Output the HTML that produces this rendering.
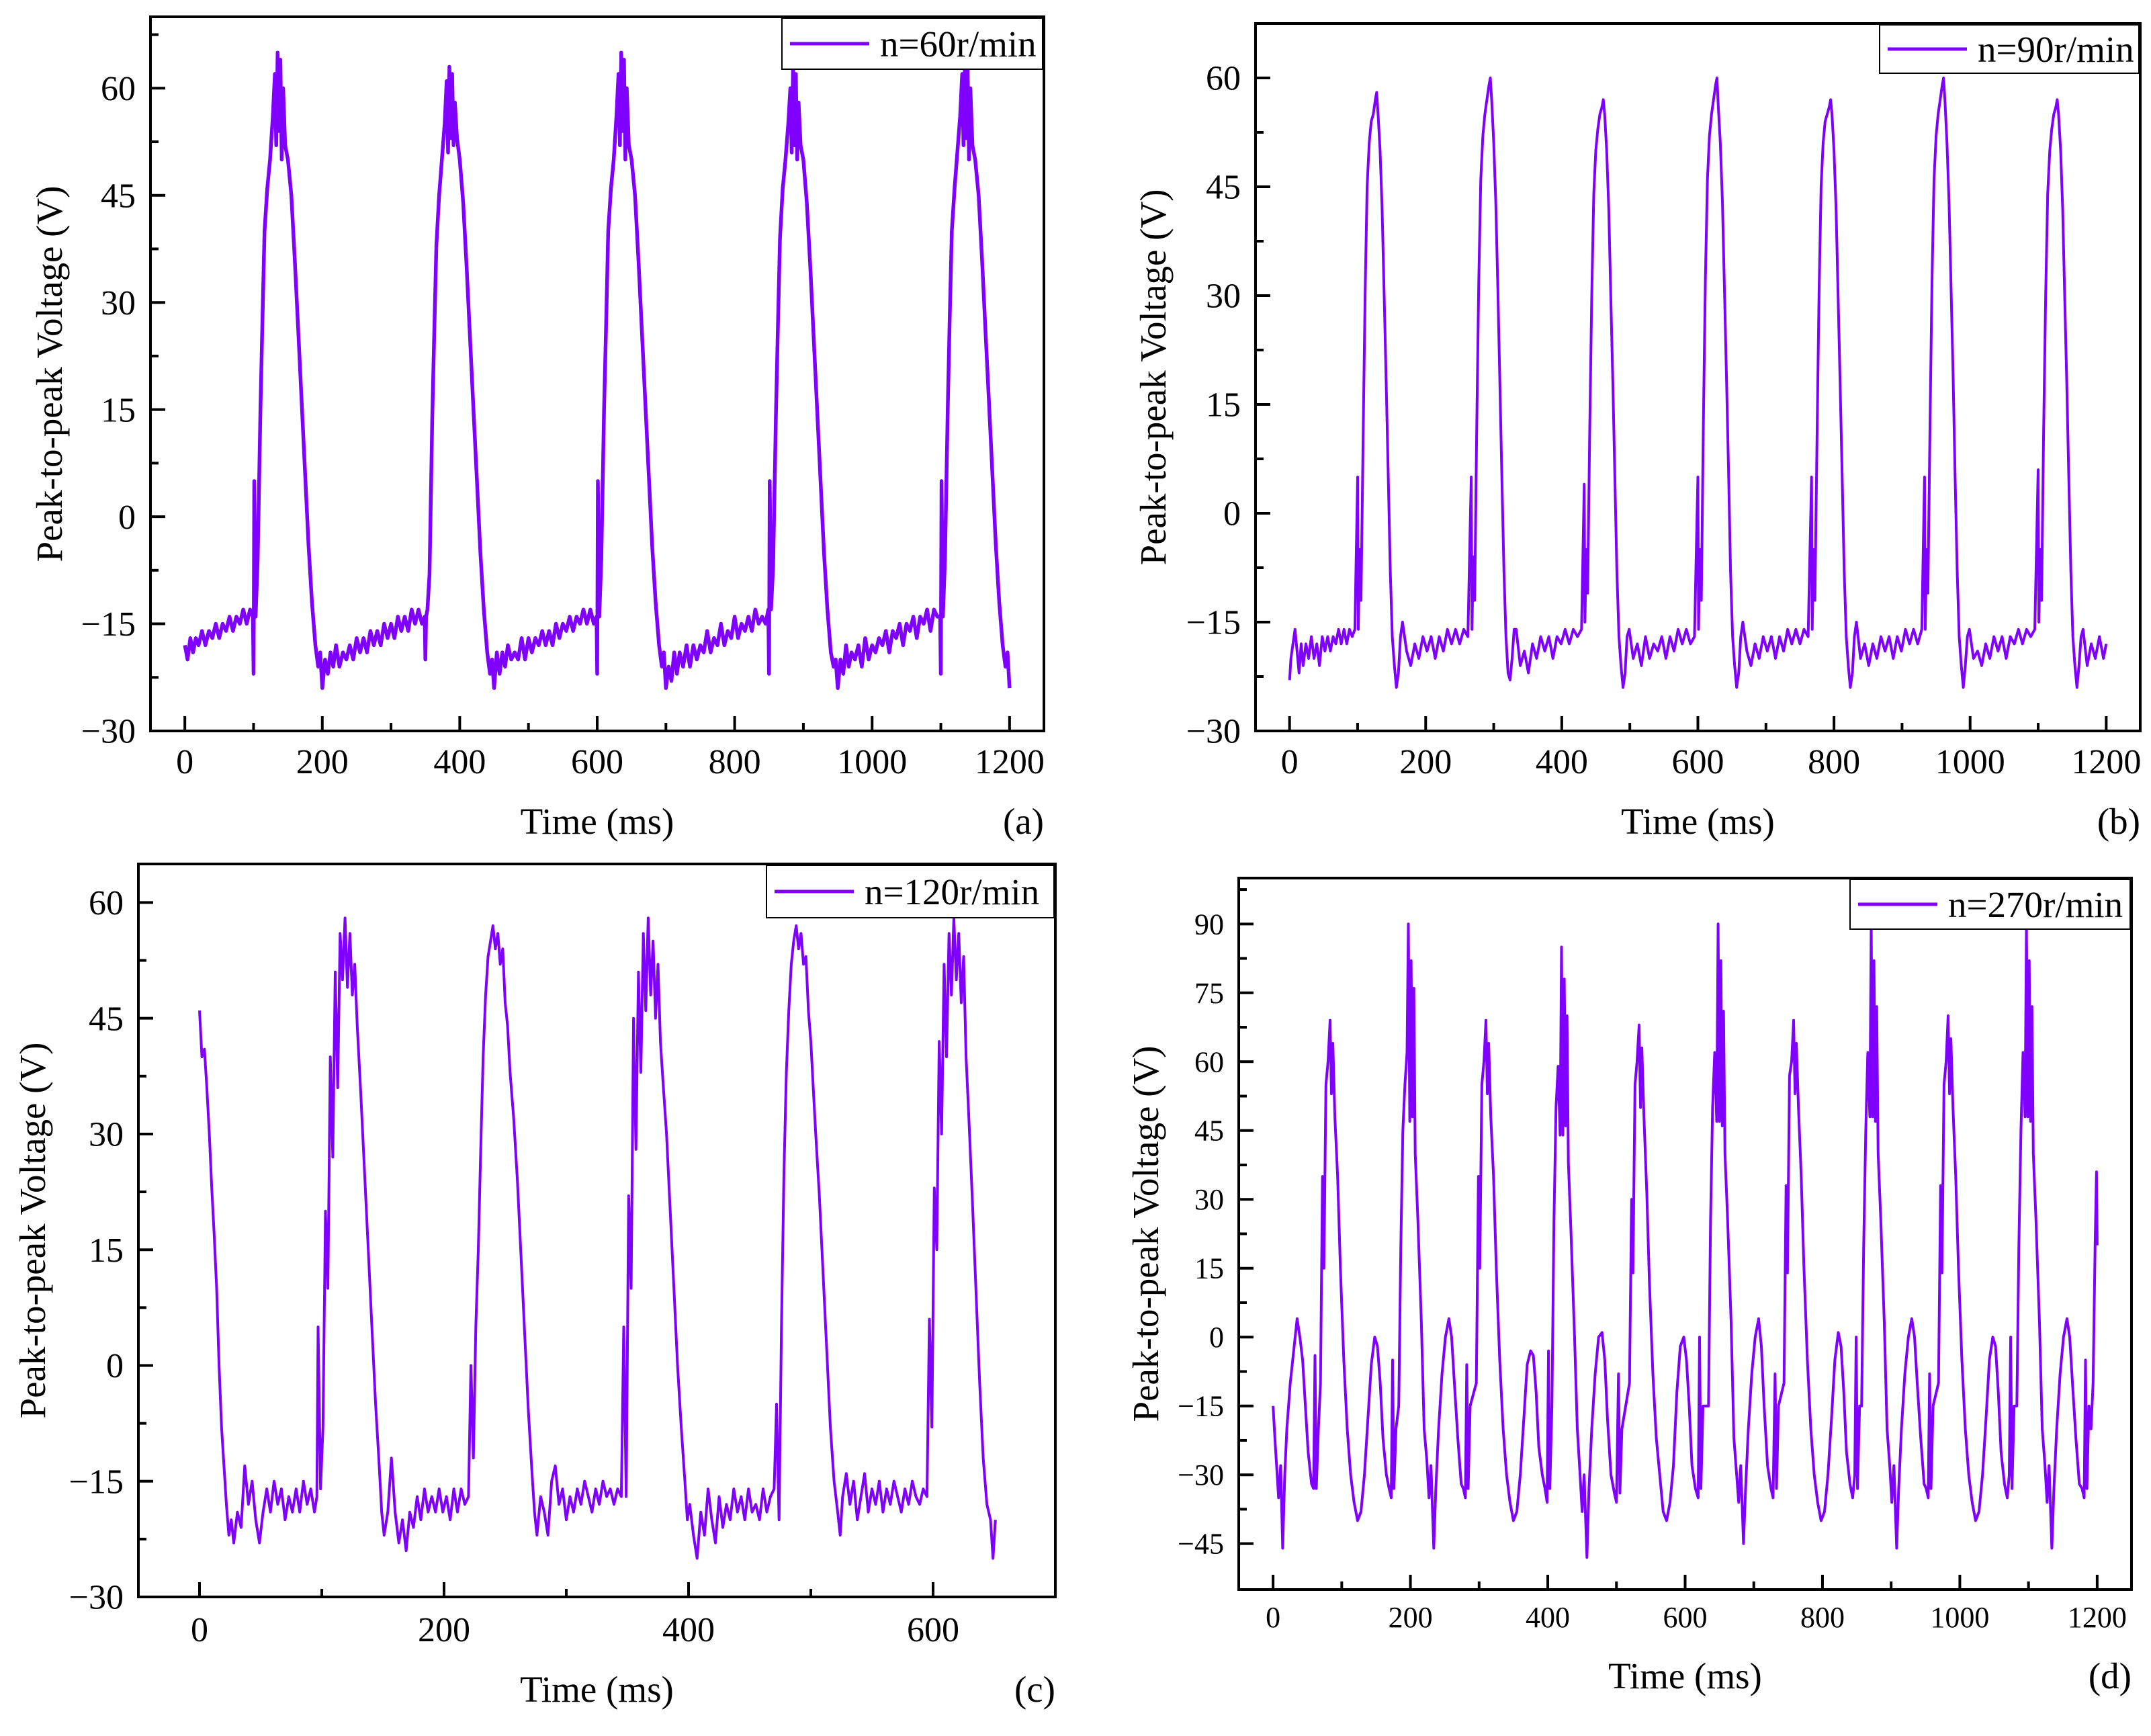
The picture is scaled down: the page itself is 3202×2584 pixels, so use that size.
<!DOCTYPE html>
<html>
<head>
<meta charset="utf-8">
<style>
html,body{margin:0;padding:0;background:#fff;}
svg{display:block;font-family:"Liberation Serif",serif;}
svg text{font-family:"Liberation Serif",serif;fill:#000;}
</style>
</head>
<body>
<svg id="fig" width="3202" height="2584" viewBox="0 0 3202 2584" xmlns="http://www.w3.org/2000/svg" font-family="Liberation Serif, serif">
<rect x="0" y="0" width="3202" height="2584" fill="#fff"/>
</svg>
<script>
// ---------- Panel (a) data: n=60r/min ----------
const tA = [0,4,8,12,16,20,25,30,35,40,45,50,55,60,65,70,75,80,85,90,95,99,
100,101,103,106,110,113,116,120,124,128,131,133,135,137,139,141,143,146,150,155,160,165,170,175,180,185,190,194,197,200,
204,208,212,216,220,225,230,235,240,245,250,255,260,265,270,275,280,285,290,295,300,305,310,315,320,325,330,335,340,345,349,
350,351,353,356,360,363,366,370,374,378,381,383,385,387,389,391,393,396,400,405,410,415,420,425,430,435,440,444,447,450,
454,458,462,466,470,475,480,485,490,495,500,505,510,515,520,525,530,535,540,545,550,555,560,565,570,575,580,585,590,595,599,
600,601,603,606,610,613,616,620,624,628,631,633,635,637,639,641,643,646,650,655,660,665,670,675,680,685,690,694,697,700,
704,708,712,716,720,725,730,735,740,745,750,755,760,765,770,775,780,785,790,795,800,805,810,815,820,825,830,835,840,845,849,
850,851,853,856,860,863,866,870,874,878,881,883,885,887,889,891,893,896,900,905,910,915,920,925,930,935,940,944,947,950,
954,958,962,966,970,975,980,985,990,995,1000,1005,1010,1015,1020,1025,1030,1035,1040,1045,1050,1055,1060,1065,1070,1075,1080,1085,1090,1095,1099,
1100,1101,1103,1106,1110,1113,1116,1120,1124,1128,1131,1133,1135,1137,1139,1141,1143,1146,1150,1155,1160,1165,1170,1175,1180,1185,1190,1194,1197,1200];
const vA = [-18,-20,-17,-19,-17,-18,-16,-18,-16,-17,-15,-17,-15,-16,-14,-16,-14,-15,-13,-15,-13,-14,
-22,5,-14,-6,15,28,40,46,50,56,62,52,65,54,64,50,60,52,50,45,36,26,16,6,-4,-12,-18,-21,-19,-24,
-20,-22,-19,-21,-18,-21,-19,-20,-18,-20,-17,-19,-17,-19,-16,-18,-16,-18,-15,-17,-15,-17,-14,-16,-14,-16,-13,-15,-13,-15,-14,
-20,-14,-13,-8,14,26,38,45,50,55,61,51,63,53,62,52,58,53,50,44,35,25,15,5,-5,-13,-19,-22,-20,-24,
-19,-22,-19,-21,-18,-20,-19,-20,-17,-20,-17,-19,-17,-18,-16,-18,-16,-18,-15,-17,-15,-16,-14,-16,-14,-15,-13,-15,-13,-15,-14,
-22,5,-14,-6,15,27,40,46,50,56,62,52,65,54,64,50,60,52,50,45,36,26,16,6,-4,-12,-18,-21,-19,-24,
-21,-23,-19,-22,-19,-21,-18,-21,-18,-20,-18,-19,-16,-19,-17,-18,-15,-18,-16,-17,-14,-17,-15,-16,-14,-16,-13,-15,-14,-15,-13,
-22,5,-13,-7,14,27,39,46,50,55,60,51,63,52,62,50,58,52,50,44,35,25,15,5,-5,-13,-19,-21,-20,-24,
-20,-22,-18,-21,-19,-20,-18,-21,-17,-20,-18,-19,-17,-18,-16,-19,-16,-17,-15,-18,-15,-16,-14,-17,-14,-15,-13,-16,-13,-14,-14,
-22,5,-14,-6,15,28,40,46,51,56,62,52,64,53,63,50,60,52,50,45,36,26,16,6,-4,-12,-18,-21,-19,-24];
const xTicksA = [0,200,400,600,800,1000,1200];
const yTicksA = [-30,-15,0,15,30,45,60];

// ---------- Panel (b) data: n=90r/min ----------
const tB = [0,2,5,8,11,14,17,20,24,28,32,36,40,44,48,52,56,60,64,68,72,76,80,84,88,92,96,
100,101,103,105,108,111,114,117,120,123,126,128,130,133,136,139,142,145,148,151,154,157,160,163,
166,172,178,184,190,196,202,208,214,220,226,232,238,244,250,256,262,
267,268,270,272,275,278,281,284,287,290,293,295,297,300,303,306,309,312,315,318,321,324,327,330,
333,339,345,351,357,363,369,375,381,387,393,399,405,411,417,423,429,
433,434,436,438,441,444,447,450,453,456,459,461,463,466,469,472,475,478,481,484,487,490,493,496,
499,505,511,517,523,529,535,541,547,553,559,565,571,577,583,589,595,
600,601,603,605,608,611,614,617,620,623,626,628,630,633,636,639,642,645,648,651,654,657,660,663,
666,672,678,684,690,696,702,708,714,720,726,732,738,744,750,756,762,
767,768,770,772,775,778,781,784,787,790,793,795,797,800,803,806,809,812,815,818,821,824,827,830,
833,839,845,851,857,863,869,875,881,887,893,899,905,911,917,923,929,
933,934,936,938,941,944,947,950,953,956,959,961,963,966,969,972,975,978,981,984,987,990,993,996,
999,1005,1011,1017,1023,1029,1035,1041,1047,1053,1059,1065,1071,1077,1083,1089,1095,
1100,1101,1103,1105,1108,1111,1114,1117,1120,1123,1126,1128,1130,1133,1136,1139,1142,1145,1148,1151,1154,1157,1160,1163,
1166,1172,1178,1184,1190,1196,1200];
const vB = [-23,-20,-18,-16,-19,-22,-18,-21,-18,-20,-17,-20,-18,-21,-17,-19,-17,-19,-17,-18,-16,-18,-16,-18,-16,-17,-16,
5,-16,-5,-12,10,30,45,51,54,55,57,58,55,50,42,30,18,5,-8,-17,-21,-24,-22,-17,
-15,-19,-21,-18,-20,-17,-19,-17,-20,-17,-19,-16,-18,-16,-18,-16,-17,
5,-16,-6,-12,12,32,46,52,55,57,59,60,57,51,43,31,18,5,-8,-17,-22,-23,-20,-16,
-16,-21,-19,-22,-18,-20,-17,-19,-17,-20,-17,-18,-16,-18,-16,-17,-16,
4,-15,-5,-11,11,30,44,50,53,55,56,57,55,50,42,30,18,5,-8,-17,-21,-24,-22,-17,
-16,-20,-18,-21,-17,-20,-18,-19,-17,-20,-17,-19,-16,-18,-16,-18,-17,
5,-16,-5,-12,12,32,46,52,55,57,59,60,56,51,43,31,19,6,-8,-17,-21,-24,-22,-17,
-15,-19,-21,-18,-20,-17,-19,-17,-20,-17,-19,-16,-18,-16,-18,-16,-17,
5,-16,-5,-12,10,30,45,51,54,55,56,57,55,50,42,30,18,5,-8,-17,-21,-24,-22,-17,
-15,-20,-18,-21,-18,-20,-17,-19,-17,-20,-17,-19,-16,-18,-16,-18,-16,
5,-16,-5,-11,12,32,46,52,55,57,59,60,57,51,43,31,19,5,-8,-17,-21,-24,-21,-17,
-16,-20,-19,-21,-18,-20,-17,-19,-17,-20,-17,-18,-16,-18,-16,-17,-16,
6,-15,-5,-12,11,30,44,50,53,55,56,57,55,50,42,30,18,5,-8,-17,-21,-24,-21,-17,
-16,-21,-18,-20,-17,-20,-18];
const xTicksB = [0,200,400,600,800,1000,1200];
const yTicksB = [-30,-15,0,15,30,45,60];

// ---------- Panel (c) data: n=120r/min ----------
const tC = [0,2,4,6,8,10,12,14,16,18,20,22,24,26,28,31,34,37,40,43,46,49,52,55,58,61,64,67,70,73,76,79,82,85,88,91,94,96,
97,99,101,103,105,107,109,111,113,115,117,119,121,123,125,127,129,132,135,138,141,144,147,149,151,154,157,160,163,166,169,172,175,178,181,184,187,190,193,196,199,202,205,208,211,214,217,220,
222,224,226,228,230,232,234,236,238,240,242,244,246,248,250,252,254,257,260,263,266,269,272,274,276,279,282,285,288,291,294,297,300,303,306,309,312,315,318,321,324,327,330,333,336,339,342,345,
347,349,351,353,355,357,359,361,363,365,367,369,371,373,375,377,379,382,385,388,391,394,397,399,401,404,407,410,413,416,419,422,425,428,431,434,437,440,443,446,449,452,455,458,461,464,467,470,
472,474,476,478,480,482,484,486,488,490,492,494,496,498,500,502,504,507,510,513,516,519,522,524,526,529,532,535,538,541,544,547,550,553,556,559,562,565,568,571,574,577,580,583,586,589,592,595,
597,599,601,603,605,607,609,611,613,615,617,619,621,623,625,627,629,632,635,638,641,644,647,649,651];
const vC = [46,40,41,36,30,23,17,10,0,-8,-13,-18,-22,-20,-23,-19,-21,-13,-18,-15,-20,-23,-19,-16,-19,-15,-18,-16,-20,-17,-19,-16,-19,-15,-18,-16,-19,-17,
5,-16,-8,20,10,40,27,51,36,56,50,58,49,56,48,52,44,35,25,15,5,-5,-13,-19,-22,-19,-12,-19,-23,-20,-24,-19,-21,-17,-20,-16,-19,-17,-19,-16,-19,-17,-20,-16,-19,-16,-18,-17,
0,-12,5,15,28,40,48,53,55,57,54,56,52,54,47,44,38,32,24,14,4,-6,-14,-19,-22,-17,-19,-22,-15,-13,-18,-16,-20,-17,-19,-16,-18,-15,-17,-19,-16,-18,-15,-17,-16,-18,-16,-17,
5,-17,22,10,45,28,51,38,56,46,58,48,55,45,52,42,37,30,20,10,0,-8,-15,-20,-18,-22,-25,-19,-22,-16,-20,-23,-17,-21,-18,-20,-16,-19,-17,-20,-16,-19,-18,-20,-16,-19,-17,-16,
-5,-20,5,25,38,46,52,55,57,54,56,52,53,46,42,36,30,22,12,2,-8,-15,-19,-22,-17,-14,-18,-15,-20,-17,-14,-19,-16,-18,-15,-19,-16,-18,-15,-17,-19,-16,-18,-15,-17,-18,-16,-17,
6,-8,23,15,42,30,52,40,56,48,58,50,56,47,53,40,33,22,10,-2,-12,-18,-20,-25,-20];
const xTicksC = [0,200,400,600];
const yTicksC = [-30,-15,0,15,30,45,60];

// ---------- Panel (d) data: n=270r/min ----------
const tD = [0,3,6,8,11,14,17,20,25,30,35,39,43,47,51,56,59,61,63,66,
69,72,74,77,80,83,85,87,90,94,98,103,108,113,118,123,128,133,138,143,148,152,156,160,165,169,172,174,176,179,
183,186,189,192,195,197,199,201,203,205,207,211,216,220,224,227,230,234,237,241,246,251,256,260,264,269,274,277,280,282,284,287,
296,299,301,304,307,310,312,314,317,321,325,330,335,340,345,350,355,360,365,370,375,379,383,387,392,396,399,401,403,
406,409,412,415,418,420,422,424,426,428,430,434,439,443,447,450,453,457,460,464,469,474,479,483,487,492,497,500,503,505,508,
519,522,524,527,530,533,535,537,540,544,548,553,558,563,568,573,578,583,588,593,598,602,606,610,615,619,621,623,626,
634,637,640,643,646,648,650,652,654,656,658,662,667,671,675,678,681,685,688,692,697,702,707,711,715,720,725,728,731,733,736,
744,747,749,752,755,758,760,762,765,769,773,778,783,788,793,798,803,808,813,818,823,827,831,835,840,844,847,849,851,854,
857,860,863,866,869,871,873,875,877,879,881,885,890,894,898,901,904,908,911,915,920,925,930,934,938,943,948,951,954,956,958,961,
969,972,974,977,980,983,985,987,990,994,998,1003,1008,1013,1018,1023,1028,1033,1038,1043,1048,1052,1056,1060,1065,1069,1072,1074,1076,1079,
1083,1086,1089,1092,1095,1097,1099,1101,1103,1105,1107,1111,1116,1120,1124,1127,1130,1134,1137,1141,1146,1151,1156,1160,1164,1169,1174,1178,1181,1183,1185,1188,1191,1194,1197,1199,1200];
const vD = [-15,-23,-30,-35,-28,-46,-30,-20,-10,-3,4,0,-5,-15,-25,-32,-33,-4,-33,-20,
-10,35,15,55,60,69,53,64,48,35,15,-5,-20,-30,-36,-40,-38,-30,-18,-6,0,-2,-10,-22,-30,-33,-35,-5,-33,-20,
-15,20,45,55,62,90,47,82,48,76,40,25,3,-20,-27,-35,-28,-46,-33,-20,-8,0,4,0,-10,-22,-32,-33,-35,-6,-33,-15,
-10,35,15,55,60,69,53,64,48,35,15,-5,-20,-30,-36,-40,-38,-30,-18,-6,-3,-4,-12,-24,-30,-33,-36,-3,-33,
-15,25,50,59,44,85,44,78,46,70,38,22,0,-20,-30,-38,-30,-48,-33,-20,-8,0,1,-5,-18,-30,-34,-36,-8,-34,-20,
-10,30,14,55,60,68,50,63,48,32,12,-8,-22,-30,-38,-40,-36,-28,-12,-2,0,-5,-15,-28,-33,-35,0,-33,-15,
-15,25,50,62,47,90,47,82,46,71,40,25,3,-22,-30,-36,-28,-45,-33,-20,-8,0,4,-2,-15,-28,-33,-35,-8,-33,-15,
-10,33,14,57,60,69,53,64,50,35,15,-5,-20,-30,-36,-40,-38,-30,-18,-5,1,-2,-12,-25,-32,-35,-30,0,-33,-15,
-15,20,45,62,48,90,48,82,47,72,40,25,3,-20,-28,-36,-28,-46,-33,-20,-8,0,4,0,-10,-22,-32,-33,-35,-8,-33,-15,
-10,33,14,55,60,70,53,65,50,35,15,-5,-20,-30,-36,-40,-38,-30,-18,-5,0,-2,-12,-25,-32,-35,-30,0,-33,-15,
-15,20,45,62,48,90,48,82,47,72,40,25,3,-20,-28,-36,-28,-46,-33,-20,-8,0,4,0,-10,-22,-32,-33,-35,-5,-33,-15,-20,-10,20,36,20];
const xTicksD = [0,200,400,600,800,1000,1200];
const yTicksD = [-45,-30,-15,0,15,30,45,60,75,90];

const NS = "http://www.w3.org/2000/svg";
const svg = document.getElementById("fig");
const FONT = '"Liberation Serif", serif';
function mk(tag, attrs, parent) {
  const e = document.createElementNS(NS, tag);
  for (const k in attrs) e.setAttribute(k, attrs[k]);
  if (tag === "text") e.style.fontFamily = FONT;
  (parent || svg).appendChild(e);
  return e;
}
function fmt(v) { return v < 0 ? "\u2212" + Math.abs(v) : String(v); }

function drawPanel(cfg, ts, vs, xTicks, yTicks) {
  const g = mk("g", {});
  
  
  const sx = t => cfg.L + (t - cfg.x0) / (cfg.x1 - cfg.x0) * (cfg.R - cfg.L);
  const sy = v => cfg.B - (v - cfg.y0) / (cfg.y1 - cfg.y0) * (cfg.B - cfg.T);

  let d = "";
  for (let i = 0; i < ts.length; i++) {
    d += (i ? "L" : "M") + sx(ts[i]).toFixed(1) + " " + sy(vs[i]).toFixed(1);
  }
  const line = mk("path", {d: d, fill: "none", stroke: "#8000ff", "stroke-width": cfg.lw, "stroke-linejoin": "round"}, g);
  
  

  const frame = mk("rect", {x: cfg.L, y: cfg.T, width: cfg.R - cfg.L, height: cfg.B - cfg.T, fill: "none", stroke: "#000", "stroke-width": 4}, g);
  
  

  for (let i = 0; i < xTicks.length; i++) {
    const x = sx(xTicks[i]);
    mk("line", {x1: x, y1: cfg.B, x2: x, y2: cfg.B - 22, stroke: "#000", "stroke-width": 4}, g);
    const lab = mk("text", {x: x, y: cfg.B + cfg.xlabOff, "font-size": cfg.fs, "text-anchor": "middle"}, g);
    lab.textContent = fmt(xTicks[i]);
    
    
    if (i < xTicks.length - 1) {
      const xm = sx((xTicks[i] + xTicks[i + 1]) / 2);
      mk("line", {x1: xm, y1: cfg.B, x2: xm, y2: cfg.B - 12, stroke: "#000", "stroke-width": 4}, g);
    }
  }
  for (let i = 0; i < yTicks.length; i++) {
    const y = sy(yTicks[i]);
    mk("line", {x1: cfg.L, y1: y, x2: cfg.L + 22, y2: y, stroke: "#000", "stroke-width": 4}, g);
    const lab = mk("text", {x: cfg.L - 22, y: y + cfg.fs * 0.34, "font-size": cfg.fs, "text-anchor": "end"}, g);
    lab.textContent = fmt(yTicks[i]);
    
    
    const step = yTicks[1] - yTicks[0];
    const ym = yTicks[i] + step / 2;
    if (ym < cfg.y1) {
      const yy = sy(ym);
      mk("line", {x1: cfg.L, y1: yy, x2: cfg.L + 12, y2: yy, stroke: "#000", "stroke-width": 4}, g);
    }
  }
  const xt = mk("text", {x: (cfg.L + cfg.R) / 2, y: cfg.xtY, "font-size": 55, "text-anchor": "middle"}, g);
  xt.textContent = "Time (ms)";
  
  
  const yc = (cfg.T + cfg.B) / 2;
  const yt = mk("text", {x: cfg.ytX, y: yc, "font-size": 55, "text-anchor": "middle", transform: "rotate(-90 " + cfg.ytX + " " + yc + ")"}, g);
  yt.textContent = "Peak-to-peak Voltage (V)";
  
  
  const pl = mk("text", {x: cfg.R, y: cfg.xtY, "font-size": 55, "text-anchor": "end"}, g);
  pl.textContent = cfg.panel;
  
  

  const lg = mk("g", {}, g);
  
  
  mk("rect", {x: cfg.lgx, y: cfg.lgy, width: cfg.R - cfg.lgx - 2, height: cfg.lgh, fill: "#fff", stroke: "#000", "stroke-width": 2}, lg);
  const lyc = cfg.lgy + cfg.lgh / 2;
  const sw = mk("line", {x1: cfg.lgx + 12, y1: lyc, x2: cfg.lgx + 130, y2: lyc, stroke: "#8000ff", "stroke-width": 5}, lg);
  
  
  const lt = mk("text", {x: cfg.lgx + 146, y: lyc + 19, "font-size": 55}, lg);
  lt.textContent = cfg.legend;
  
  
}

drawPanel({name: "panel-a", panel: "(a)", legend: "n=60r/min", L: 224, T: 25, R: 1554, B: 1088, x0: -50, x1: 1250, y0: -30, y1: 70,
  fs: 52, xlabOff: 63, xtY: 1241, ytX: 92, lgx: 1164, lgy: 27, lgh: 76, lw: 5.5}, tA, vA, xTicksA, yTicksA);
drawPanel({name: "panel-b", panel: "(b)", legend: "n=90r/min", L: 1869, T: 35, R: 3186, B: 1088, x0: -50, x1: 1250, y0: -30, y1: 67.5,
  fs: 52, xlabOff: 63, xtY: 1241, ytX: 1735, lgx: 2798, lgy: 37, lgh: 72, lw: 4}, tB, vB, xTicksB, yTicksB);
drawPanel({name: "panel-c", panel: "(c)", legend: "n=120r/min", L: 206, T: 1286, R: 1571, B: 2377, x0: -50, x1: 700, y0: -30, y1: 65,
  fs: 52, xlabOff: 66, xtY: 2533, ytX: 67, lgx: 1141, lgy: 1288, lgh: 78, lw: 4}, tC, vC, xTicksC, yTicksC);
drawPanel({name: "panel-d", panel: "(d)", legend: "n=270r/min", L: 1844, T: 1307, R: 3173, B: 2366, x0: -50, x1: 1250, y0: -55, y1: 100,
  fs: 44, xlabOff: 56, xtY: 2513, ytX: 1724, lgx: 2754, lgy: 1309, lgh: 74, lw: 4}, tD, vD, xTicksD, yTicksD);
</script>
</body>
</html>
